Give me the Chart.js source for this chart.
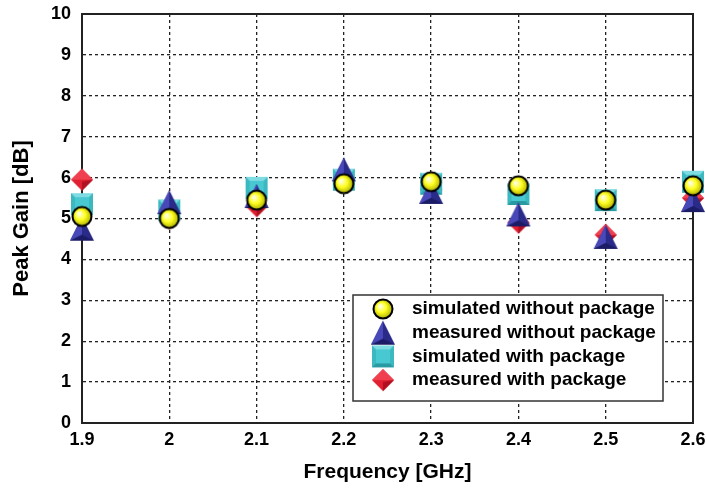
<!DOCTYPE html>
<html>
<head>
<meta charset="utf-8">
<script src="https://cdn.jsdelivr.net/npm/chart.js@4/dist/chart.umd.min.js"></script>
<style>
  html, body { margin: 0; padding: 0; background: #fff; }
  #wrap { width: 706px; height: 489px; }
</style>
</head>
<body>
<div id="wrap"><canvas id="grafico" width="706" height="489"></canvas></div>
<script>
// frecuencias (GHz)
const frequencies = [1.9, 2.0, 2.1, 2.2, 2.3, 2.4, 2.5, 2.6];
const xTicks = [1.9, 2.0, 2.1, 2.2, 2.3, 2.4, 2.5, 2.6];
const yTicks = [0, 1, 2, 3, 4, 5, 6, 7, 8, 9, 10];

const seriesLabels = [
    "simulated without package",
    "measured without package",
    "simulated with package",
    "measured with package"
];
const simNoPkg  = [5.05, 5.0, 5.45, 5.85, 5.9, 5.8, 5.45, 5.8];
const measNoPkg = [4.75, 5.4, 5.55, 6.2, 5.65, 5.1, 4.55, 5.45];
const simPkg    = [5.35, 5.2, 5.75, 5.95, 5.85, 5.6, 5.45, 5.9];
const measPkg   = [5.95, 5.0, 5.3, 5.9, 5.7, 4.9, 4.6, 5.5];

const FONT = "'Liberation Sans', Arial, sans-serif";

function lienzo(size) {
    const c = document.createElement("canvas");
    c.width = size; c.height = size;
    return c;
}

function marcadorCirculo() {
    const c = lienzo(24), g = c.getContext("2d");
    const grad = g.createRadialGradient(9, 9, 1, 12, 12, 10);
    grad.addColorStop(0, "#ffffe0");
    grad.addColorStop(0.45, "#ffff20");
    grad.addColorStop(1, "#a8a800");
    g.beginPath(); g.arc(12, 12, 9.5, 0, Math.PI * 2);
    g.fillStyle = grad; g.fill();
    g.lineWidth = 2; g.strokeStyle = "#000"; g.stroke();
    return c;
}

function marcadorTriangulo() {
    const c = lienzo(26), g = c.getContext("2d");
    g.beginPath(); g.moveTo(13, 1); g.lineTo(25, 25); g.lineTo(1, 25); g.closePath();
    g.fillStyle = "#2a2a88"; g.fill();
    g.beginPath(); g.moveTo(13, 1); g.lineTo(13, 19); g.lineTo(1, 25); g.closePath();
    g.fillStyle = "#4848b8"; g.fill();
    g.beginPath(); g.moveTo(13, 19); g.lineTo(25, 25); g.lineTo(1, 25); g.closePath();
    g.fillStyle = "#1c1c66"; g.fill();
    return c;
}

function marcadorCuadrado() {
    const c = lienzo(24), g = c.getContext("2d");
    g.fillStyle = "#3cb8c0"; g.fillRect(1, 1, 22, 22);
    g.fillStyle = "#7edce2";
    g.beginPath(); g.moveTo(1, 1); g.lineTo(23, 1); g.lineTo(19, 5); g.lineTo(5, 5); g.closePath(); g.fill();
    g.fillStyle = "#2a9aa2";
    g.beginPath(); g.moveTo(1, 23); g.lineTo(23, 23); g.lineTo(19, 19); g.lineTo(5, 19); g.closePath(); g.fill();
    g.fillStyle = "#48c8d0"; g.fillRect(5, 5, 14, 14);
    return c;
}

function marcadorRombo() {
    const c = lienzo(24), g = c.getContext("2d");
    g.beginPath(); g.moveTo(12, 1); g.lineTo(23, 12); g.lineTo(12, 23); g.lineTo(1, 12); g.closePath();
    g.fillStyle = "#e02030"; g.fill();
    g.beginPath(); g.moveTo(12, 1); g.lineTo(23, 12); g.lineTo(1, 12); g.closePath();
    g.fillStyle = "#f04050"; g.fill();
    g.beginPath(); g.moveTo(12, 23); g.lineTo(23, 12); g.lineTo(12, 14); g.closePath();
    g.fillStyle = "#b01020"; g.fill();
    return c;
}

const marcadores = [marcadorCirculo(), marcadorTriangulo(), marcadorCuadrado(), marcadorRombo()];
const valores = [simNoPkg, measNoPkg, simPkg, measPkg];

const datasets = seriesLabels.map((label, i) => ({
    label,
    data: frequencies.map((f, k) => ({ x: f, y: valores[i][k] })),
    pointStyle: marcadores[i],
    showLine: false,
    clip: false
}));

// leyenda dibujada dentro del area del grafico
const leyendaInterna = {
    id: "leyendaInterna",
    afterDraw(chart) {
        const ctx = chart.ctx;
        const x0 = 353, y0 = 295, w = 310, h = 106;
        ctx.save();
        ctx.fillStyle = "#fff";
        ctx.fillRect(x0, y0, w, h);
        ctx.lineWidth = 1.5;
        ctx.strokeStyle = "#333";
        ctx.strokeRect(x0, y0, w, h);
        ctx.font = "bold 19px " + FONT;
        ctx.fillStyle = "#000";
        ctx.textBaseline = "middle";
        seriesLabels.forEach((label, i) => {
            const y = y0 + 14 + i * 23.7;
            const m = marcadores[i];
            ctx.drawImage(m, x0 + 30 - m.width / 2, y - m.height / 2);
            ctx.fillText(label, x0 + 59, y);
        });
        ctx.restore();
    }
};

new Chart(document.getElementById("grafico"), {
    type: "scatter",
    data: { datasets },
    options: {
        responsive: false,
        animation: false,
        layout: { padding: { top: 14, right: 13, left: 0, bottom: 0 } },
        plugins: { legend: { display: false }, tooltip: { enabled: false } },
        scales: {
            x: {
                type: "linear",
                min: 1.9,
                max: 2.6,
                afterBuildTicks: (axis) => { axis.ticks = xTicks.map((v) => ({ value: v })); },
                afterFit: (axis) => {
                    axis.height = 66;
                    axis.paddingLeft = 0;
                    axis.paddingRight = 0;
                },
                ticks: {
                    color: "#000",
                    padding: 6,
                    font: { family: FONT, size: 18, weight: "bold" },
                    callback: (v) => String(parseFloat(v.toFixed(1)))
                },
                grid: { color: "#222", lineWidth: 1.3, drawTicks: false },
                border: { display: true, color: "#000", width: 2, dash: [3, 3] },
                title: {
                    display: true,
                    text: "Frequency [GHz]",
                    color: "#000",
                    padding: { top: 4 },
                    font: { family: FONT, size: 21, weight: "bold" }
                }
            },
            y: {
                min: 0,
                max: 10,
                afterBuildTicks: (axis) => { axis.ticks = yTicks.map((v) => ({ value: v })); },
                afterFit: (axis) => {
                    axis.width = 82;
                    axis.paddingTop = 0;
                    axis.paddingBottom = 0;
                },
                ticks: {
                    color: "#000",
                    padding: 11,
                    font: { family: FONT, size: 18, weight: "bold" }
                },
                grid: { color: "#222", lineWidth: 1.3, drawTicks: false },
                border: { display: true, color: "#000", width: 2, dash: [3, 3] },
                title: {
                    display: true,
                    text: "Peak Gain [dB]",
                    color: "#000",
                    padding: { top: 9, bottom: 0 },
                    font: { family: FONT, size: 22, weight: "bold" }
                }
            }
        }
    },
    plugins: [leyendaInterna, {
        id: "marcoSolido",
        beforeDatasetsDraw(chart) {
            // marco solido del area de trazado
            const a = chart.chartArea, ctx = chart.ctx;
            ctx.save();
            ctx.strokeStyle = "#222";
            ctx.lineWidth = 2;
            ctx.strokeRect(a.left, a.top, a.right - a.left, a.bottom - a.top);
            ctx.restore();
        }
    }]
});
</script>
</body>
</html>
